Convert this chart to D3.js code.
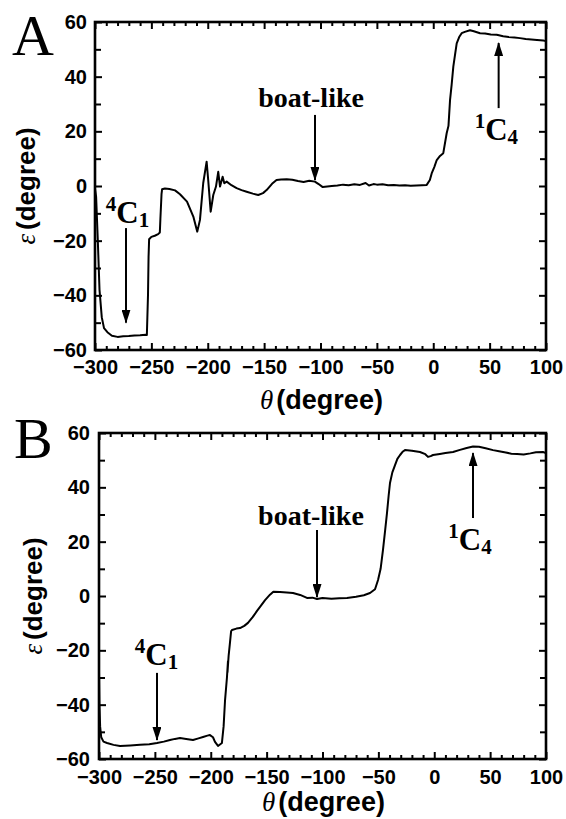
<!DOCTYPE html>
<html>
<head>
<meta charset="utf-8">
<script src="https://cdn.jsdelivr.net/npm/d3@7"></script>
<style>
  body { margin: 0; background: #fff; }
  svg { display: block; }
</style>
</head>
<body>
<script>
// panel A curve
var thetaA = [-300,-299,-297.5,-296,-294,-292,-289,-285,-280,-275,-270,-265,-260,-255,-254,-253,-252.5,-252,-250,-247,-244,-242.5,-242,-241,-240.5,-238,-234,-229,-224.6,-218.4,-212.8,-209.3,-206.9,-204,-201,-199.6,-197.4,-195.1,-192.7,-190.7,-189.1,-186.8,-185.3,-183.2,-179,-174.4,-170,-165.5,-160,-155.2,-151,-147.8,-143,-139,-135,-130,-125,-120,-115,-110,-105,-102,-98,-94,-90,-85,-80,-75,-70,-65,-60,-57,-53,-50,-45,-40,-35,-30,-25,-20,-15,-10,-5.8,-3,-1.4,1,3.1,6,8.9,11.9,13.5,14.9,16.3,17.8,19.3,20.8,23,25.2,28,32.6,36,41.5,46,51,56.3,62,67,72,76.9,82,87,92,97.6,100];
var epsA = [-1,-4,-20,-38,-48,-52,-53.5,-54.8,-55.2,-55,-54.9,-54.7,-54.6,-54.4,-54.5,-40,-26,-19.5,-18.6,-18.2,-17.6,-17,-12,-3,-1.2,-0.9,-1.1,-1.6,-3,-5.7,-11.2,-16.7,-12.4,1.1,8.9,2.2,-9.4,-3.3,-0.2,5.2,-0.2,3.4,1,1.6,0.3,-0.8,-1.5,-2.1,-2.8,-3.3,-2.6,-1.5,0.8,2.2,2.4,2.5,2.3,1.8,1.5,1.9,1.6,0.8,-0.4,-0.2,0,0.2,0.5,0.3,0.6,0.4,1.1,0.2,0.7,0.5,0.6,0.3,0.4,0.2,0.3,0.1,0.2,0.3,0.4,2.2,4.6,7,9.5,11,12,19.3,22,31.5,37,43.7,48,52.2,54.5,55.9,56.4,57,56.6,55.9,55.8,55.4,55.3,54.8,54.5,54.3,54.1,53.8,53.6,53.4,53.2,53];

// panel B curve
var thetaB = [-300,-299.6,-299,-298,-296,-292.8,-287,-281.2,-272,-263.3,-255,-248.1,-242,-236.5,-232,-227.5,-222,-215.9,-211,-206.9,-203,-200.7,-198,-196.2,-193.5,-190,-188.5,-187.2,-185.5,-184.6,-185,-184,-183,-181.8,-181,-177,-173.8,-170,-166.7,-162.5,-158.6,-155.9,-151.4,-147,-144,-138,-132,-126.4,-120,-113.9,-109,-104.9,-100,-92,-85,-78.1,-70,-63,-57.5,-53,-50.3,-48,-45.9,-44,-42.3,-40.8,-39.6,-37.5,-35.1,-33,-30.6,-28,-26.2,-20,-12.8,-8,-5.6,-3.2,-1.1,5,10,16.8,23,29,34.7,40,46,52.6,58,64,69,74.1,80,86,91,97.3,100];
var epsB = [-28,-40,-48,-52,-53.6,-54.1,-54.8,-55.2,-55,-54.8,-54.6,-54.1,-53.6,-53,-52.6,-52.3,-52.6,-53,-52.4,-51.9,-51.4,-51.2,-52,-53.7,-55.2,-54.1,-48,-38.3,-30,-24,-28,-22,-18,-13,-12.5,-12,-11.8,-11,-9.9,-7.8,-5.5,-4,-1.5,0.5,1.6,1.5,1.3,1.1,0.4,-0.7,-0.6,-1.1,-0.7,-1,-0.8,-0.7,-0.3,0.3,1.1,2.5,5.9,10,16.9,24,30.5,37,41.6,45.5,48.2,50.5,51.9,53.2,53.7,53.5,53,52.2,51.2,51.5,51.9,52.3,52.6,53,53.8,54.5,55,54.9,54.4,53.7,53.3,52.8,52.4,52.3,52.1,52.5,52.9,53,52.6];

var xTicks = [-300, -250, -200, -150, -100, -50, 0, 50, 100];
var yTicks = [-60, -40, -20, 0, 20, 40, 60];

// annotations: label centre/baseline (tx, ty), arrow at x from y0 to y1 (data units)
var notesA = [
  { sup: "", base: "boat-like", sub: "", tx: -108.4, ty: 28.9, ax: -104.9, y0: 26, y1: 2.2 },
  { sup: "1", base: "C", sub: "4", tx: 56, ty: 16.8, ax: 58, y0: 28.5, y1: 52.3 },
  { sup: "4", base: "C", sub: "1", tx: -271.2, ty: -13.5, ax: -272.5, y0: -15.4, y1: -50 }
];
var notesB = [
  { sup: "", base: "boat-like", sub: "", tx: -110.3, ty: 26.1, ax: -104.9, y0: 24.3, y1: -0.4 },
  { sup: "1", base: "C", sub: "4", tx: 32, ty: 16.9, ax: 34.7, y0: 28.7, y1: 52.6 },
  { sup: "4", base: "C", sub: "1", tx: -248.5, ty: -25.4, ax: -248.1, y0: -28.3, y1: -53 }
];

var W = 566, H = 819;
var SANS = "'Liberation Sans', Arial, sans-serif";
var SERIF = "'Liberation Serif', 'Times New Roman', serif";

var svg = d3.select("body").append("svg")
  .attr("width", W)
  .attr("height", H);

svg.append("defs").append("marker")
  .attr("id", "ah")
  .attr("markerUnits", "userSpaceOnUse")
  .attr("viewBox", "0 0 14 9")
  .attr("markerWidth", 14)
  .attr("markerHeight", 9)
  .attr("refX", 13)
  .attr("refY", 4.5)
  .attr("orient", "auto")
  .append("path")
  .attr("d", "M0,0L14,4.5L0,9Z")
  .attr("fill", "#000");

var drawPanel = function (box, thetas, eps, notes, letter, opt) {
  var x = d3.scaleLinear().domain([-300, 100]).range([box.left, box.right]);
  var y = d3.scaleLinear().domain([-60, 60]).range([box.bottom, box.top]);
  var g = svg.append("g");

  var minorX = d3.range(-300, 101, 10).filter(function (d) { return xTicks.indexOf(d) < 0; });
  var minorY = d3.range(-60, 61, 10).filter(function (d) { return yTicks.indexOf(d) < 0; });

  var axes = [
    [d3.axisBottom(x).tickValues(xTicks).tickSize(-7).tickPadding(opt.xpad).tickFormat(d3.format("d")), box.bottom, 0],
    [d3.axisBottom(x).tickValues(minorX).tickSize(-4).tickFormat(""), box.bottom, 0],
    [d3.axisTop(x).tickValues(xTicks).tickSize(-7).tickFormat(""), box.top, 0],
    [d3.axisTop(x).tickValues(minorX).tickSize(-4).tickFormat(""), box.top, 0],
    [d3.axisLeft(y).tickValues(yTicks).tickSize(-7).tickPadding(opt.ypad).tickFormat(d3.format("d")), 0, box.left],
    [d3.axisLeft(y).tickValues(minorY).tickSize(-6).tickFormat(""), 0, box.left],
    [d3.axisRight(y).tickValues(yTicks).tickSize(-7).tickFormat(""), 0, box.right],
    [d3.axisRight(y).tickValues(minorY).tickSize(-6).tickFormat(""), 0, box.right]
  ];
  axes.forEach(function (a) {
    var ag = g.append("g")
      .attr("transform", "translate(" + a[2] + "," + a[1] + ")")
      .call(a[0]);
    ag.select(".domain").remove();
    ag.selectAll("line").attr("stroke", "#000").attr("stroke-width", 2);
    ag.selectAll("text")
      .attr("font-family", SANS)
      .attr("font-weight", "bold")
      .attr("font-size", 20)
      .attr("fill", "#000");
  });

  g.append("rect")
    .attr("x", box.left).attr("y", box.top)
    .attr("width", box.right - box.left)
    .attr("height", box.bottom - box.top)
    .attr("fill", "none")
    .attr("stroke", "#000")
    .attr("stroke-width", 2.6);

  var line = d3.line()
    .x(function (d) { return x(d[0]); })
    .y(function (d) { return y(d[1]); });

  g.append("path")
    .attr("d", line(d3.zip(thetas, eps)))
    .attr("fill", "none")
    .attr("stroke", "#000")
    .attr("stroke-width", 2)
    .attr("stroke-linejoin", "round");

  notes.forEach(function (n) {
    g.append("line")
      .attr("x1", x(n.ax)).attr("x2", x(n.ax))
      .attr("y1", y(n.y0)).attr("y2", y(n.y1))
      .attr("stroke", "#000")
      .attr("stroke-width", 2)
      .attr("marker-end", "url(#ah)");
    var t = g.append("text")
      .attr("x", x(n.tx)).attr("y", y(n.ty))
      .attr("text-anchor", "middle")
      .attr("font-family", SERIF)
      .attr("font-weight", "bold")
      .attr("fill", "#000");
    if (n.sup) {
      t.append("tspan").attr("font-size", 21).attr("dy", -12).text(n.sup);
      t.append("tspan").attr("font-size", 31).attr("dy", 12).text(n.base);
      t.append("tspan").attr("font-size", 21).attr("dy", 4).text(n.sub);
    } else {
      t.append("tspan").attr("font-size", 28).text(n.base);
    }
  });

  // panel letter
  g.append("text")
    .attr("x", opt.letterX).attr("y", opt.letterY)
    .attr("font-family", SERIF)
    .attr("font-size", 58)
    .attr("fill", "#000")
    .text(letter);

  // x title
  var xt = g.append("text")
    .attr("x", (box.left + box.right) / 2 + 1)
    .attr("y", opt.xtitleY)
    .attr("text-anchor", "middle")
    .attr("fill", "#000");
  xt.append("tspan").attr("font-family", SERIF).attr("font-style", "italic").attr("font-size", 27).text("\u03b8");
  xt.append("tspan").attr("dx", 3).attr("font-family", SANS).attr("font-weight", "bold").attr("font-size", 27).text("(degree)");

  // y title
  var yt = g.append("text")
    .attr("transform", "translate(" + opt.ytitleX + "," + ((box.top + box.bottom) / 2) + ") rotate(-90)")
    .attr("text-anchor", "middle")
    .attr("fill", "#000");
  yt.append("tspan").attr("font-family", SERIF).attr("font-style", "italic").attr("font-size", 27).text("\u03b5");
  yt.append("tspan").attr("dx", 4).attr("font-family", SANS).attr("font-weight", "bold").attr("font-size", 26).text("(degree)");
};

drawPanel({ left: 95, right: 546, top: 22, bottom: 350 }, thetaA, epsA, notesA, "A",
  { xpad: 10, ypad: 8, letterX: 12, letterY: 55, xtitleY: 409, ytitleX: 35 });
drawPanel({ left: 99, right: 546, top: 433, bottom: 759 }, thetaB, epsB, notesB, "B",
  { xpad: 11, ypad: 9, letterX: 14, letterY: 458, xtitleY: 811, ytitleX: 42 });
</script>
</body>
</html>
